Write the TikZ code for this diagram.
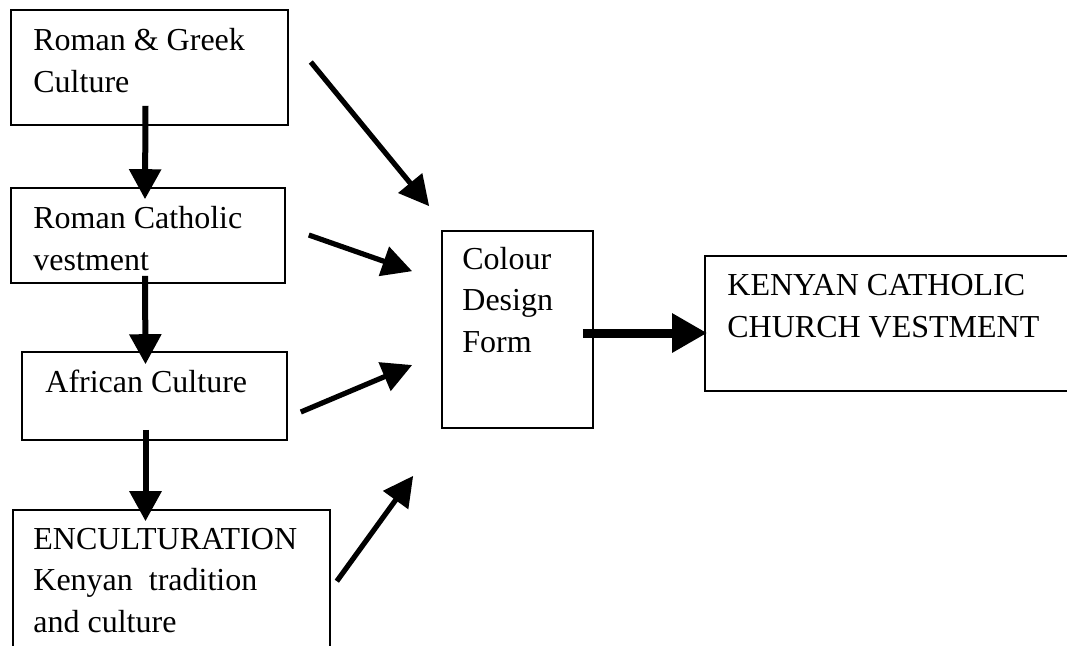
\documentclass[tikz,border=0pt]{standalone}
\usepackage{fontspec}
\setmainfont{Liberation Serif}
\usetikzlibrary{arrows.meta}

\begin{document}
\begin{tikzpicture}[
    x=0.5pt, y=-0.5pt,
    box/.style={draw, line width=0.8pt, inner sep=0pt},
    boxtext/.style={anchor=base west, align=left, inner sep=0pt,
        font=\fontsize{16}{20.75}\selectfont},
    downarrow/.style={-{Triangle[length=15pt, width=15.5pt]}, line width=3pt},
    feedarrow/.style={-{Triangle[length=15pt, width=15pt]}, line width=2.6pt},
    bigarrow/.style={-{Triangle[length=17.5pt, width=18.5pt]}, line width=4.5pt},
]
\clip (0,0) rectangle (1067,645);

% =====================================================
% Left column: sources (text placed by its last line)
% =====================================================
\node[box, minimum width=138.5pt, minimum height=57.5pt] (roman) at (149.5,67.5) {};
\node[boxtext] (roman-txt) at (33,92) {Roman \& Greek\\Culture};

\node[box, minimum width=137pt, minimum height=47.5pt] (catholic) at (148,235.5) {};
\node[boxtext] (catholic-txt) at (33,270) {Roman Catholic\\vestment};

\node[box, minimum width=132.5pt, minimum height=44pt] (african) at (154.5,396) {};
\node[boxtext] (african-txt) at (45,392) {African Culture};

\node[box, minimum width=158.5pt, minimum height=85pt] (encult) at (171.5,595) {};
\node[boxtext] (encult-txt) at (33,632)
    {ENCULTURATION\\Kenyan\ \ tradition\\and culture};

% =====================================================
% Middle: elements, right: result
% =====================================================
\node[box, minimum width=75.5pt, minimum height=98.5pt] (elements) at (517.5,329.5) {};
\node[boxtext] (elements-txt) at (462,352) {Colour\\Design\\Form};

\node[box, minimum width=192.5pt, minimum height=67.5pt] (kenyan) at (897.5,323.5) {};
\node[boxtext] (kenyan-txt) at (727,337) {KENYAN CATHOLIC\\CHURCH VESTMENT};

% --- down the left column ---
\draw[downarrow] ([xshift=-2pt, yshift=10pt]roman.south)
    -- ([xshift=-1.5pt, yshift=-6pt]catholic.north);
\draw[downarrow] ([xshift=-1.5pt, yshift=4pt]catholic.south)
    -- ([xshift=-4.5pt, yshift=-6.5pt]african.north);
\draw[downarrow] ([xshift=-4.5pt, yshift=5.5pt]african.south)
    -- ([xshift=-13pt, yshift=-6pt]encult.north);

% --- into the elements box ---
\draw[feedarrow] ([xshift=11pt, yshift=2.75pt]roman.east)
    -- ([xshift=-6pt, yshift=12pt]elements.north west);
\draw[feedarrow] ([xshift=11.5pt, yshift=0.25pt]catholic.east)
    -- ([xshift=-14.5pt, yshift=-20.5pt]elements.north west);
\draw[feedarrow] ([xshift=6.5pt, yshift=-8pt]african.east)
    -- ([xshift=-14.5pt, yshift=-17.75pt]elements.west);
\draw[feedarrow] ([xshift=3pt, yshift=-36pt]encult.north east)
    -- ([xshift=-14pt, yshift=-23.5pt]elements.south west);

% --- result ---
\draw[bigarrow] ([xshift=-5.5pt, yshift=-1.75pt]elements.east)
    -- ([xshift=1.5pt, yshift=-4.75pt]kenyan.west);

\end{tikzpicture}
\end{document}
